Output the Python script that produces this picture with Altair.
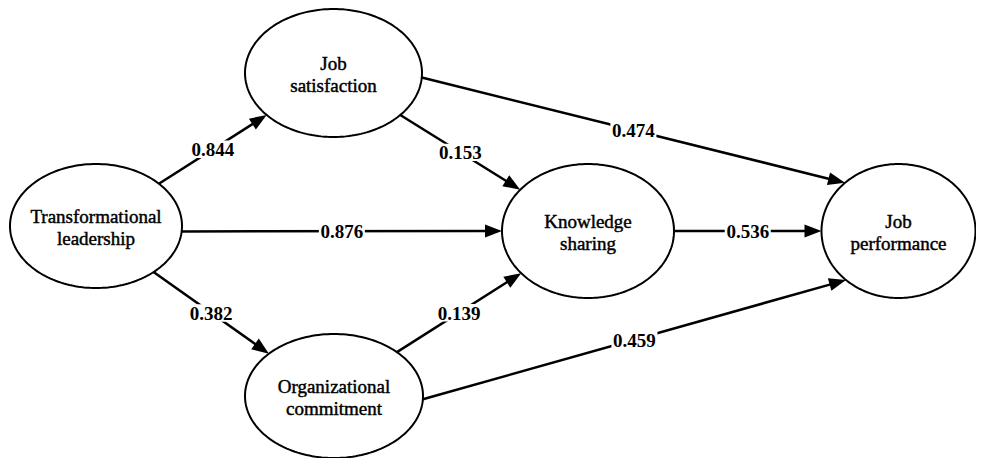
import altair as alt
import numpy as np
import pandas as pd

# ---- nodes (latent constructs) ----
node_ids = ["TL", "JS", "KS", "JP", "OC"]
node_lines = [
    ["Transformational", "leadership"],
    ["Job", "satisfaction"],
    ["Knowledge", "sharing"],
    ["Job", "performance"],
    ["Organizational", "commitment"],
]
node_cx = [96, 333.5, 588, 898.5, 334]
node_cy = [226, 73, 231, 231, 396]
node_rx = [86, 88.5, 86, 77, 89]
node_ry = [62, 64, 67, 67, 62]

# ---- paths (edges) ----
edge_from = ["TL", "TL", "TL", "JS", "OC", "JS", "KS", "OC"]
edge_to = ["JS", "KS", "OC", "KS", "KS", "JP", "JP", "JP"]
edge_coef = ["0.844", "0.876", "0.382", "0.153", "0.139", "0.474", "0.536", "0.459"]
edge_src_port = [43, 355, 312, 319, 45, 356, 0, 357]     # degrees on source ellipse
edge_dst_port = [221, 180, 137, 142, 219, 134, 180, 227]  # degrees on target ellipse

W, H = 968, 450
X0, Y0 = 8, 8

nodes = pd.DataFrame({"id": node_ids, "lines": node_lines, "cx": node_cx,
                      "cy": node_cy, "rx": node_rx, "ry": node_ry}).set_index("id")

# ellipse outlines
t = np.linspace(0, 2 * np.pi, 181)
outline_rows = []
for nid in node_ids:
    n = nodes.loc[nid]
    for i, tt in enumerate(t):
        outline_rows.append({"id": nid, "k": i,
                             "x": n.cx + n.rx * np.cos(tt),
                             "y": n.cy - n.ry * np.sin(tt)})
outline = pd.DataFrame(outline_rows)

def port(nid, deg):
    n = nodes.loc[nid]
    a = np.radians(deg)
    return n.cx + n.rx * np.cos(a), n.cy - n.ry * np.sin(a)

HEAD = 17.0
edge_rows = []
for f, to, c, sp, dp in zip(edge_from, edge_to, edge_coef, edge_src_port, edge_dst_port):
    sx, sy = port(f, sp)
    tx, ty = port(to, dp)
    dx, dy = tx - sx, ty - sy
    L = np.hypot(dx, dy)
    ux, uy = dx / L, dy / L
    ang = (np.degrees(np.arctan2(dx, -dy)) + 360) % 360
    edge_rows.append({"coef": c, "sx": sx, "sy": sy, "tx": tx, "ty": ty,
                      "bx": tx - ux * (HEAD - 1), "by": ty - uy * (HEAD - 1),
                      "mx": (sx + tx) / 2, "my": (sy + ty) / 2, "angle": ang})
edges = pd.DataFrame(edge_rows)

xs = alt.Scale(domain=[X0, X0 + W], nice=False, zero=False)
ys = alt.Scale(domain=[Y0, Y0 + H], nice=False, zero=False, reverse=True)

ell = alt.Chart(outline).mark_line(color="black", strokeWidth=2).encode(
    x=alt.X("x:Q", scale=xs, axis=None),
    y=alt.Y("y:Q", scale=ys, axis=None),
    detail="id:N",
    order="k:Q",
)

node_text = alt.Chart(nodes.reset_index()).mark_text(
    font="Liberation Serif", fontSize=19, lineHeight=22, baseline="middle",
    align="center", color="black", stroke="black", strokeWidth=0.45, dy=-9
).encode(
    x=alt.X("cx:Q", scale=xs, axis=None),
    y=alt.Y("cy:Q", scale=ys, axis=None),
    text="lines",
)

shafts = alt.Chart(edges).mark_rule(color="black", strokeWidth=2.5).encode(
    x=alt.X("sx:Q", scale=xs, axis=None),
    y=alt.Y("sy:Q", scale=ys, axis=None),
    x2="bx:Q",
    y2="by:Q",
)

heads = alt.Chart(edges).mark_point(
    shape="M0,0 L-0.65,1.7 L0.65,1.7 Z", size=400, filled=True,
    color="black", opacity=1, strokeWidth=0
).encode(
    x=alt.X("tx:Q", scale=xs, axis=None),
    y=alt.Y("ty:Q", scale=ys, axis=None),
    angle=alt.Angle("angle:Q", scale=None),
)

label_bg = alt.Chart(edges).mark_point(
    shape="M-1,-0.38 L1,-0.38 L1,0.38 L-1,0.38 Z", size=2116, filled=True,
    color="white", opacity=1, strokeWidth=0
).encode(
    x=alt.X("mx:Q", scale=xs, axis=None),
    y=alt.Y("my:Q", scale=ys, axis=None),
)

labels = alt.Chart(edges).mark_text(
    font="Liberation Serif", fontSize=19, fontWeight="bold", baseline="middle",
    align="center", color="black", dy=1
).encode(
    x=alt.X("mx:Q", scale=xs, axis=None),
    y=alt.Y("my:Q", scale=ys, axis=None),
    text="coef:N",
)

chart = alt.layer(ell, shafts, heads, label_bg, labels, node_text).properties(
    width=W, height=H, padding=0, background="white",
    autosize=alt.AutoSizeParams(type="none"),
).configure_view(stroke=None)

chart.save("out.html", embed_options={"renderer": "svg", "actions": False})
